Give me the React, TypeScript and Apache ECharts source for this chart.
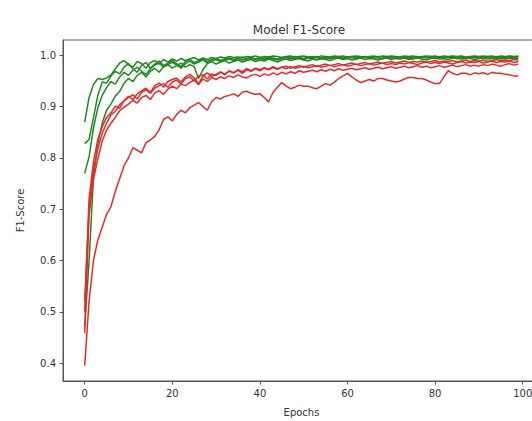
import React, { useEffect, useRef } from "react";
import * as echarts from "echarts";

const epochs: number[] = Array.from({ length: 100 }, (_, i) => i);

const trainFold1 = [
  0.870, 0.918, 0.943, 0.955, 0.953, 0.956, 0.962, 0.974, 0.985, 0.990,
  0.982, 0.977, 0.988, 0.984, 0.975, 0.986, 0.990, 0.983, 0.992, 0.987,
  0.993, 0.989, 0.994, 0.990, 0.993, 0.996, 0.991, 0.995, 0.992, 0.996,
  0.994, 0.997, 0.995, 0.998, 0.996, 0.997, 0.995, 0.998, 0.997, 0.999,
  0.996, 0.998, 0.997, 0.999, 0.998, 0.996, 0.998, 0.999, 0.997, 0.998,
  0.999, 0.997, 0.998, 0.996, 0.999, 0.998, 0.997, 0.999, 0.998, 0.999,
  0.997, 0.998, 0.999, 0.998, 0.996, 0.998, 0.999, 0.997, 0.999, 0.998,
  0.999, 0.998, 0.997, 0.999, 0.998, 0.999, 0.997, 0.998, 0.999, 0.998,
  0.999, 0.997, 0.999, 0.998, 0.999, 0.998, 0.999, 0.997, 0.998, 0.999,
  0.998, 0.999, 0.998, 0.999, 0.997, 0.999, 0.998, 0.999, 0.998, 0.999,
];

const trainFold2 = [
  0.828, 0.836, 0.878, 0.922, 0.948, 0.946, 0.960, 0.969, 0.964, 0.977,
  0.984, 0.974, 0.967, 0.981, 0.986, 0.975, 0.983, 0.989, 0.980, 0.985,
  0.990, 0.984, 0.978, 0.988, 0.992, 0.986, 0.989, 0.993, 0.988, 0.992,
  0.994, 0.990, 0.993, 0.995, 0.992, 0.995, 0.997, 0.994, 0.996, 0.993,
  0.996, 0.994, 0.997, 0.995, 0.993, 0.996, 0.997, 0.995, 0.998, 0.996,
  0.994, 0.997, 0.996, 0.998, 0.995, 0.997, 0.996, 0.998, 0.997, 0.995,
  0.997, 0.998, 0.996, 0.997, 0.998, 0.996, 0.997, 0.998, 0.997, 0.995,
  0.997, 0.996, 0.998, 0.997, 0.995, 0.997, 0.998, 0.996, 0.997, 0.998,
  0.996, 0.998, 0.997, 0.996, 0.998, 0.997, 0.998, 0.996, 0.997, 0.998,
  0.997, 0.996, 0.998, 0.997, 0.998, 0.996, 0.997, 0.998, 0.997, 0.997,
];

const trainFold3 = [
  0.770, 0.802, 0.858, 0.898, 0.922, 0.937, 0.949, 0.944, 0.958, 0.967,
  0.961, 0.971, 0.977, 0.969, 0.963, 0.974, 0.981, 0.985, 0.977, 0.982,
  0.987, 0.981, 0.975, 0.984, 0.989, 0.983, 0.987, 0.991, 0.985, 0.989,
  0.992, 0.988, 0.991, 0.993, 0.990, 0.994, 0.991, 0.993, 0.995, 0.992,
  0.994, 0.992, 0.995, 0.993, 0.991, 0.994, 0.996, 0.993, 0.995, 0.994,
  0.992, 0.995, 0.994, 0.996, 0.993, 0.995, 0.994, 0.996, 0.995, 0.993,
  0.995, 0.996, 0.994, 0.995, 0.997, 0.994, 0.996, 0.995, 0.993, 0.996,
  0.995, 0.997, 0.994, 0.996, 0.995, 0.993, 0.996, 0.997, 0.995, 0.996,
  0.994, 0.996, 0.995, 0.997, 0.996, 0.994, 0.996, 0.995, 0.997, 0.996,
  0.995, 0.996, 0.997, 0.995, 0.996, 0.994, 0.996, 0.997, 0.995, 0.996,
];

const trainFold4 = [
  0.470, 0.598, 0.762, 0.828, 0.868, 0.893, 0.905, 0.921, 0.930, 0.946,
  0.955, 0.949, 0.961, 0.967, 0.958, 0.969, 0.975, 0.967, 0.978, 0.982,
  0.975, 0.980, 0.985, 0.977, 0.982, 0.978, 0.955, 0.972, 0.984, 0.988,
  0.983, 0.987, 0.990, 0.985, 0.988, 0.991, 0.987, 0.990, 0.992, 0.988,
  0.991, 0.989, 0.993, 0.990, 0.987, 0.991, 0.993, 0.990, 0.992, 0.994,
  0.991, 0.989, 0.993, 0.991, 0.994, 0.992, 0.990, 0.993, 0.995, 0.992,
  0.994, 0.991, 0.993, 0.995, 0.992, 0.994, 0.993, 0.991, 0.994, 0.995,
  0.992, 0.994, 0.993, 0.995, 0.992, 0.994, 0.995, 0.993, 0.991, 0.994,
  0.995, 0.993, 0.994, 0.992, 0.995, 0.994, 0.993, 0.995, 0.994, 0.992,
  0.994, 0.995, 0.993, 0.994, 0.995, 0.993, 0.994, 0.995, 0.994, 0.993,
];

const valFold1 = [
  0.520, 0.702, 0.776, 0.818, 0.848, 0.868, 0.884, 0.891, 0.904, 0.911,
  0.918, 0.923, 0.915, 0.928, 0.933, 0.926, 0.936, 0.941, 0.945, 0.938,
  0.948, 0.952, 0.944, 0.955, 0.958, 0.950, 0.960, 0.962, 0.954, 0.964,
  0.961, 0.967, 0.964, 0.969, 0.966, 0.971, 0.965, 0.972, 0.969, 0.974,
  0.970, 0.975, 0.972, 0.976, 0.973, 0.977, 0.974, 0.978, 0.975, 0.977,
  0.979, 0.976, 0.978, 0.980, 0.977, 0.979, 0.981, 0.978, 0.980, 0.982,
  0.979, 0.981, 0.983, 0.980, 0.982, 0.984, 0.981, 0.983, 0.985, 0.982,
  0.984, 0.982, 0.985, 0.983, 0.986, 0.984, 0.982, 0.985, 0.987, 0.984,
  0.986, 0.984, 0.987, 0.985, 0.983, 0.986, 0.988, 0.985, 0.987, 0.986,
  0.988, 0.985, 0.987, 0.989, 0.986, 0.988, 0.987, 0.989, 0.986, 0.988,
];

const valFold2 = [
  0.458, 0.688, 0.758, 0.798, 0.833, 0.854, 0.868, 0.879, 0.892, 0.899,
  0.905, 0.912, 0.907, 0.918, 0.922, 0.914, 0.927, 0.931, 0.924, 0.934,
  0.940, 0.935, 0.944, 0.941, 0.947, 0.952, 0.943, 0.954, 0.949, 0.957,
  0.953, 0.958, 0.955, 0.960, 0.957, 0.962, 0.958, 0.956, 0.961, 0.963,
  0.959, 0.964, 0.961, 0.966, 0.962, 0.967, 0.964, 0.968, 0.965, 0.970,
  0.967, 0.969, 0.971, 0.968, 0.972, 0.969, 0.973, 0.970, 0.974, 0.971,
  0.973, 0.975, 0.972, 0.974, 0.976, 0.973, 0.975, 0.977, 0.974, 0.976,
  0.978, 0.975, 0.977, 0.979, 0.976, 0.978, 0.980, 0.977, 0.979, 0.976,
  0.978, 0.980, 0.977, 0.979, 0.981, 0.978, 0.980, 0.982, 0.979, 0.981,
  0.979, 0.982, 0.980, 0.983, 0.981, 0.979, 0.982, 0.984, 0.981, 0.983,
];

const valFold3 = [
  0.500, 0.720, 0.792, 0.836, 0.861, 0.879, 0.888, 0.901, 0.897, 0.912,
  0.920, 0.914, 0.925, 0.931, 0.936, 0.928, 0.941, 0.946, 0.938, 0.949,
  0.953, 0.956, 0.948, 0.958, 0.963, 0.956, 0.944, 0.960, 0.966, 0.959,
  0.963, 0.968, 0.962, 0.970, 0.966, 0.972, 0.968, 0.974, 0.970, 0.975,
  0.972, 0.976, 0.973, 0.978, 0.974, 0.977, 0.979, 0.975, 0.978, 0.980,
  0.977, 0.980, 0.982, 0.978, 0.981, 0.983, 0.980, 0.982, 0.984, 0.981,
  0.983, 0.985, 0.982, 0.984, 0.986, 0.983, 0.985, 0.987, 0.984, 0.986,
  0.988, 0.985, 0.987, 0.989, 0.986, 0.988, 0.987, 0.989, 0.986, 0.988,
  0.990, 0.987, 0.989, 0.988, 0.990, 0.987, 0.989, 0.991, 0.988, 0.990,
  0.989, 0.991, 0.988, 0.990, 0.992, 0.989, 0.991, 0.990, 0.992, 0.991,
];

const valFold4 = [
  0.395, 0.520, 0.600, 0.640, 0.665, 0.690, 0.705, 0.735, 0.760, 0.785,
  0.800, 0.820, 0.815, 0.810, 0.830, 0.835, 0.842, 0.855, 0.875, 0.880,
  0.872, 0.885, 0.893, 0.888, 0.898, 0.903, 0.908, 0.900, 0.893, 0.910,
  0.918, 0.915, 0.920, 0.922, 0.925, 0.920, 0.928, 0.930, 0.926, 0.924,
  0.925, 0.918, 0.909, 0.928, 0.938, 0.947, 0.940, 0.935, 0.938, 0.942,
  0.940, 0.940, 0.937, 0.935, 0.940, 0.945, 0.942, 0.948, 0.955, 0.960,
  0.965, 0.958, 0.952, 0.947, 0.950, 0.953, 0.950, 0.955, 0.955, 0.952,
  0.950, 0.948, 0.950, 0.954, 0.957, 0.957, 0.955, 0.955, 0.952, 0.948,
  0.945, 0.945, 0.958, 0.970, 0.965, 0.962, 0.965, 0.965, 0.962, 0.966,
  0.964, 0.966, 0.963, 0.967, 0.965, 0.965, 0.963, 0.962, 0.960, 0.960,
];

const trainSeries = [trainFold1, trainFold2, trainFold3, trainFold4];
const valSeries = [valFold1, valFold2, valFold3, valFold4];

const xTicks = [0, 20, 40, 60, 80, 100];
const yTicks = [0.4, 0.5, 0.6, 0.7, 0.8, 0.9, 1.0];

const GREEN = "#1d8a1d";
const RED = "#e32b2b";
const FONT = "DejaVu Sans";

export default function App() {
  const ref = useRef<HTMLDivElement>(null);

  useEffect(() => {
    if (!ref.current) return;
    const chart = echarts.init(ref.current, undefined, { renderer: "svg" });

    const mk = (arr: number[], color: string, name: string) => ({
      type: "line",
      name,
      data: arr.map((v, i) => [epochs[i], v]),
      showSymbol: false,
      symbol: "none",
      lineStyle: { color, width: 1.5 },
      itemStyle: { color },
      z: 2,
    });

    const series: any[] = [];
    trainSeries.forEach((s, i) => series.push(mk(s, GREEN, "train" + (i + 1))));
    valSeries.forEach((s, i) => series.push(mk(s, RED, "val" + (i + 1))));

    chart.setOption({
      animation: false,
      backgroundColor: "#ffffff",
      textStyle: { fontFamily: FONT },
      title: {
        text: "Model F1-Score",
        left: 294,
        top: 19,
        textAlign: "center",
        textStyle: { fontFamily: FONT, fontSize: 12, fontWeight: "normal", color: "#333" },
      },
      grid: {
        left: 63,
        top: 40,
        width: 477,
        height: 341,
        show: true,
        borderColor: "#555",
        borderWidth: 1,
        backgroundColor: "#fff",
        containLabel: false,
        outerBoundsMode: "none",
      },
      xAxis: {
        type: "value",
        min: -4.95,
        max: 103.95,
        name: "Epochs",
        nameLocation: "middle",
        nameGap: 26,
        nameTextStyle: { fontFamily: FONT, fontSize: 10, color: "#333" },
        axisLine: { show: true, onZero: false, lineStyle: { color: "#555", width: 1 } },
        axisTick: {
          show: true,
          customValues: xTicks,
          length: 3.5,
          lineStyle: { color: "#555" },
        },
        axisLabel: {
          customValues: xTicks,
          fontFamily: FONT,
          fontSize: 10,
          color: "#333",
          margin: 7,
          formatter: (v: number) => String(Math.round(v)),
        },
        splitLine: { show: false },
      },
      yAxis: {
        type: "value",
        min: 0.365,
        max: 1.03,
        name: "F1-Score",
        nameLocation: "middle",
        nameGap: 38,
        nameRotate: 90,
        nameTextStyle: { fontFamily: FONT, fontSize: 10, color: "#333" },
        axisLine: { show: true, onZero: false, lineStyle: { color: "#555", width: 1 } },
        axisTick: {
          show: true,
          customValues: yTicks,
          length: 3.5,
          lineStyle: { color: "#555" },
        },
        axisLabel: {
          customValues: yTicks,
          fontFamily: FONT,
          fontSize: 10,
          color: "#333",
          margin: 7,
          formatter: (v: number) => v.toFixed(1),
        },
        splitLine: { show: false },
      },
      series,
    });

    return () => chart.dispose();
  }, []);

  return <div ref={ref} style={{ width: 532, height: 421, position: "absolute", left: 0, top: 0 }} />;
}
